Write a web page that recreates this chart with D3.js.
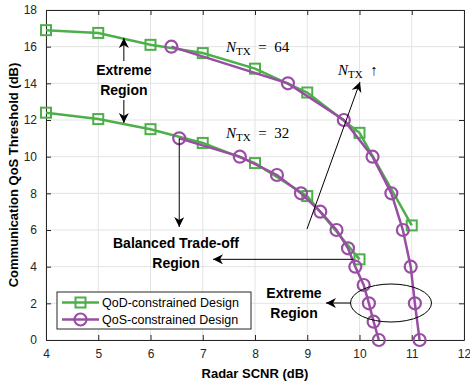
<!DOCTYPE html>
<html>
<head>
<meta charset="utf-8">
<script src="https://cdn.jsdelivr.net/npm/d3@7"></script>
<style>
  body { margin: 0; background: #fff; }
  svg { display: block; }
  .tick text { font-family: "Liberation Sans", Arial, sans-serif; font-size: 12px; fill: #262626; }
</style>
</head>
<body>
<div id="chart"></div>
<script>
// values
var xTicks = [4, 5, 6, 7, 8, 9, 10, 11, 12];
var yTicks = [0, 2, 4, 6, 8, 10, 12, 14, 16, 18];

var qod64X = [4, 5, 6, 7, 8, 9, 10, 11];
var qod64Y = [16.9, 16.75, 16.1, 15.65, 14.8, 13.5, 11.3, 6.25];
var qos64X = [6.4, 8.63, 9.7, 10.25, 10.61, 10.83, 10.98, 11.06, 11.15];
var qos64Y = [16, 14, 12, 10, 8, 6, 4, 2, 0];

var qod32X = [4, 5, 6, 7, 8, 9, 10];
var qod32Y = [12.4, 12.05, 11.5, 10.75, 9.65, 7.85, 4.4];
var qos32X = [6.55, 7.71, 8.42, 8.88, 9.25, 9.56, 9.78, 9.92, 10.08, 10.18, 10.27, 10.37];
var qos32Y = [11, 10, 9, 8, 7, 6, 5, 4, 3, 2, 1, 0];

var legendNames = ["QoD-constrained Design", "QoS-constrained Design"];

var green = "#4daf4a", purple = "#984ea3";
var width = 470, height = 381;
var mLeft = 46, mRight = 464, mTop = 10, mBottom = 340;

var svg = d3.select("#chart").append("svg")
    .attr("width", width)
    .attr("height", height);

svg.append("defs").append("marker")
    .attr("id", "ah")
    .attr("viewBox", "0 0 10 10")
    .attr("refX", 10).attr("refY", 5)
    .attr("markerWidth", 10).attr("markerHeight", 10)
    .attr("markerUnits", "userSpaceOnUse")
    .attr("orient", "auto")
    .append("path")
    .attr("d", "M0,0 L10,5 L0,10 L3,5 Z")
    .attr("fill", "#000");

var x = d3.scaleLinear().domain([4, 12]).range([mLeft, mRight]);
var y = d3.scaleLinear().domain([0, 18]).range([mBottom, mTop]);

// grid
svg.append("g").selectAll("line").data(xTicks).enter().append("line")
    .attr("x1", function(d) { return x(d); }).attr("x2", function(d) { return x(d); })
    .attr("y1", mTop).attr("y2", mBottom)
    .attr("stroke", "#e3e3e3").attr("stroke-width", 1);
svg.append("g").selectAll("line").data(yTicks).enter().append("line")
    .attr("y1", function(d) { return y(d); }).attr("y2", function(d) { return y(d); })
    .attr("x1", mLeft).attr("x2", mRight)
    .attr("stroke", "#e3e3e3").attr("stroke-width", 1);

// axes (ticks inward like matlab)
function styleAxis(g) {
    g.select(".domain").attr("stroke", "#262626");
    g.selectAll(".tick line").attr("stroke", "#262626");
}
svg.append("g").attr("transform", "translate(0," + mBottom + ")")
    .call(d3.axisBottom(x).tickValues(xTicks).tickSizeInner(-5).tickSizeOuter(0).tickPadding(9))
    .call(styleAxis);
svg.append("g").attr("transform", "translate(" + mLeft + ",0)")
    .call(d3.axisLeft(y).tickValues(yTicks).tickSizeInner(-5).tickSizeOuter(0).tickPadding(9))
    .call(styleAxis);
svg.append("g").attr("transform", "translate(0," + mTop + ")")
    .call(d3.axisTop(x).tickValues(xTicks).tickSizeInner(-5).tickSizeOuter(0).tickFormat(""))
    .call(styleAxis);
svg.append("g").attr("transform", "translate(" + mRight + ",0)")
    .call(d3.axisRight(y).tickValues(yTicks).tickSizeInner(-5).tickSizeOuter(0).tickFormat(""))
    .call(styleAxis);

var line = d3.line().x(function(d) { return x(d[0]); }).y(function(d) { return y(d[1]); });

function drawSquares(xs, ys) {
    var pts = d3.zip(xs, ys);
    svg.append("path").datum(pts).attr("d", line)
        .attr("fill", "none").attr("stroke", green).attr("stroke-width", 2.5);
    svg.append("g").selectAll("rect").data(pts).enter().append("rect")
        .attr("x", function(d) { return x(d[0]) - 5; })
        .attr("y", function(d) { return y(d[1]) - 5; })
        .attr("width", 10).attr("height", 10)
        .attr("fill", "none").attr("stroke", green).attr("stroke-width", 2);
}
function drawCircles(xs, ys) {
    var pts = d3.zip(xs, ys);
    svg.append("path").datum(pts).attr("d", line)
        .attr("fill", "none").attr("stroke", purple).attr("stroke-width", 2.5);
    svg.append("g").selectAll("circle").data(pts).enter().append("circle")
        .attr("cx", function(d) { return x(d[0]); })
        .attr("cy", function(d) { return y(d[1]); })
        .attr("r", 6)
        .attr("fill", "none").attr("stroke", purple).attr("stroke-width", 2.2);
}

drawSquares(qod64X, qod64Y);
drawSquares(qod32X, qod32Y);
drawCircles(qos64X, qos64Y);
drawCircles(qos32X, qos32Y);

// annotations
function arrow(x1, y1, x2, y2) {
    svg.append("line").attr("x1", x1).attr("y1", y1).attr("x2", x2).attr("y2", y2)
        .attr("stroke", "#000").attr("stroke-width", 1).attr("marker-end", "url(#ah)");
}
function boldText(tx, ty, s) {
    svg.append("text").attr("x", tx).attr("y", ty)
        .attr("text-anchor", "middle")
        .attr("font-family", "Liberation Sans, Arial, sans-serif")
        .attr("font-weight", "bold").attr("font-size", 14)
        .text(s);
}
function ntx(tx, ty, rest) {
    var t = svg.append("text").attr("x", tx).attr("y", ty)
        .attr("font-family", "Liberation Serif, Times New Roman, serif")
        .attr("font-size", 15);
    t.append("tspan").attr("font-style", "italic").text("N");
    t.append("tspan").attr("font-size", 11).attr("dy", 3).text("TX");
    t.append("tspan").attr("dy", -3).text(rest);
}

arrow(x(5.49), 61, x(5.49), 38);
arrow(x(5.49), 100, x(5.49), 123);
boldText(x(5.49), 75, "Extreme");
boldText(x(5.49), 95, "Region");

arrow(x(qos32X[0]), y(qos32Y[0]), x(qos32X[0]), 227);
boldText(176, 248, "Balanced Trade-off");
boldText(176, 268, "Region");
arrow(x(qod32X[6]) - 6, y(qod32Y[6]), 213, y(qod32Y[6]));

arrow(307, 229, 360, 82);

svg.append("ellipse").attr("cx", 391).attr("cy", 303).attr("rx", 40.5).attr("ry", 19)
    .attr("fill", "none").attr("stroke", "#000").attr("stroke-width", 1);
arrow(351, 303, 326, 303);
boldText(294, 298, "Extreme");
boldText(294, 318, "Region");

ntx(226, 52, "\u2002=\u200264");
ntx(226, 138, "\u2002=\u200232");
ntx(338, 75, "\u2002\u2191");

// legend
var lg = svg.append("g");
lg.append("rect").attr("x", 57).attr("y", 292).attr("width", 194).attr("height", 37)
    .attr("fill", "#fff").attr("stroke", "#262626").attr("stroke-width", 1);
[green, purple].forEach(function(c, i) {
    var ly = 302.5 + i * 17;
    lg.append("line").attr("x1", 62).attr("x2", 99).attr("y1", ly).attr("y2", ly)
        .attr("stroke", c).attr("stroke-width", 2.5);
    if (i === 0) {
        lg.append("rect").attr("x", 80.5 - 5).attr("y", ly - 5).attr("width", 10).attr("height", 10)
            .attr("fill", "none").attr("stroke", c).attr("stroke-width", 2);
    } else {
        lg.append("circle").attr("cx", 80.5).attr("cy", ly).attr("r", 6)
            .attr("fill", "none").attr("stroke", c).attr("stroke-width", 2.2);
    }
    lg.append("text").attr("x", 102).attr("y", ly + 4.5)
        .attr("font-family", "Liberation Sans, Arial, sans-serif").attr("font-size", 12.5)
        .attr("fill", "#000")
        .text(legendNames[i]);
});

// axis titles
svg.append("text").attr("x", (mLeft + mRight) / 2).attr("y", 378)
    .attr("text-anchor", "middle")
    .attr("font-family", "Liberation Sans, Arial, sans-serif")
    .attr("font-weight", "bold").attr("font-size", 13)
    .text("Radar SCNR (dB)");
svg.append("text").attr("transform", "translate(18," + ((mTop + mBottom) / 2) + ") rotate(-90)")
    .attr("text-anchor", "middle")
    .attr("font-family", "Liberation Sans, Arial, sans-serif")
    .attr("font-weight", "bold").attr("font-size", 13)
    .text("Communication QoS Threshold (dB)");
</script>
</body>
</html>
